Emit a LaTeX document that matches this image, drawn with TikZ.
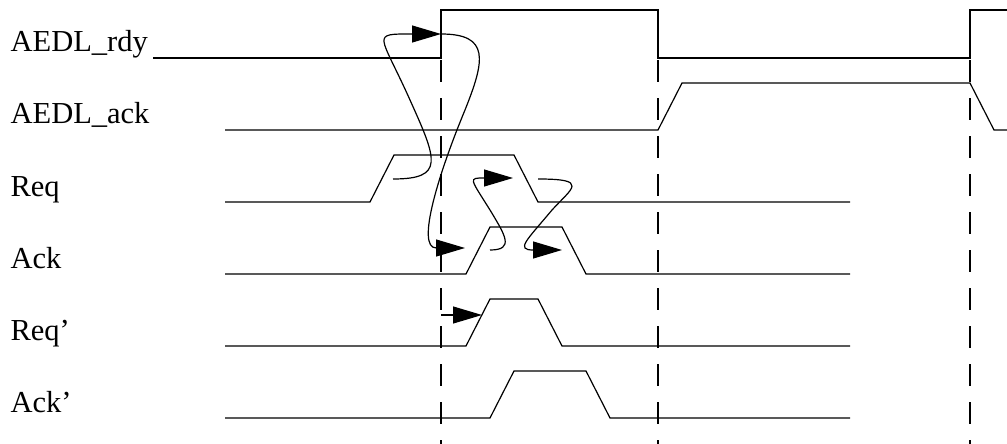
\documentclass[tikz,border=0pt]{standalone}
\usepackage{fontspec}
\setmainfont{Liberation Serif}
\usetikzlibrary{arrows.meta}

\begin{document}
\begin{tikzpicture}[x=1pt,y=-1pt,line width=1.2pt,
    lbl/.style={anchor=base west,inner sep=0pt,font=\fontsize{30.5}{36}\selectfont},
    cause/.style={-{Triangle[length=29pt,width=17pt]}},
    guide/.style={dash pattern=on 22pt off 16pt}]
  \useasboundingbox (0,0) rectangle (1007,444);
  % signal names
  \node[lbl] (rdy) at (10,52) {AEDL\_rdy};
  \node[lbl] (ack) at (10,124) {AEDL\_ack};
  \node[lbl] (req) at (10,196) {Req};
  \node[lbl] (ak) at (10,268) {Ack};
  \node[lbl] (reqp) at (10,340) {Req’};
  \node[lbl] (akp) at (10,412) {Ack’};
  % AEDL_rdy and AEDL_ack
  \draw (153,58) -- (441,58) -- (441,10) -- (658,10) -- (658,58) -- (970,58) -- (970,10) -- (1007,10);
  \draw (225,130) -- (658,130) -- (682,83) -- (970,83) -- (994,130) -- (1007,130);
  % handshake pulses
  \foreach \y/\a/\b in {202/370/514, 274/466/562, 346/466/538, 418/490/586}
    \draw (225,\y) -- (\a,\y) -- ++(24,-47) -- (\b,{\y-47}) -- ++(24,47) -- (850,\y);
  % time marks
  \foreach \x in {441,658,970}
    \draw[guide] (\x,60) -- (\x,444);
  % causality arrows
  \coordinate (reqhi) at (393,179);
  \coordinate (rdyup) at (441,34);
  \coordinate (akup) at (465,248);
  \coordinate (akhi) at (490,250);
  \coordinate (reqdn) at (513,178);
  \coordinate (reqlo) at (538,179);
  \coordinate (akdn) at (562,250);
  \coordinate (mark) at (441,315);
  \coordinate (reqpup) at (482,315);
  \draw[cause] (reqhi) .. controls (445,179) and (437,160) .. (410,100)
    .. controls (380,33) and (370,34) .. (rdyup);
  \draw[cause] (rdyup) .. controls (490,34) and (485,60) .. (465,110)
    .. controls (440,170) and (415,248) .. (akup);
  \draw[cause] (akhi) .. controls (515,250) and (505,235) .. (490,210)
    .. controls (470,178) and (468,178) .. (reqdn);
  \draw[cause] (reqlo) .. controls (590,179) and (572,188) .. (552,210)
    .. controls (527,240) and (515,250) .. (akdn);
  \draw[cause] (mark) -- (reqpup);
\end{tikzpicture}
\end{document}
